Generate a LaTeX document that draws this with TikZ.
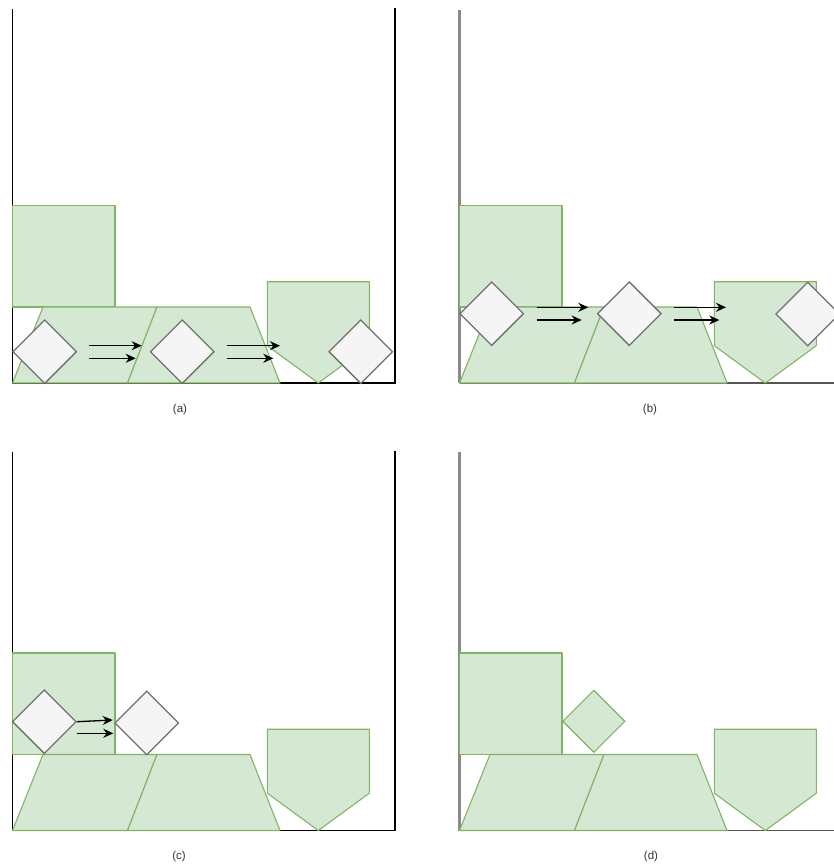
\documentclass[tikz,border=0pt]{standalone}
\usepackage{fontspec}
\setmainfont{Liberation Sans}
\usetikzlibrary{arrows.meta,shapes.geometric}
\definecolor{gfill}{HTML}{D5E8D4}
\definecolor{gline}{HTML}{82B366}
\definecolor{dfill}{HTML}{F5F5F5}
\definecolor{dline}{HTML}{707070}
\definecolor{wallgray}{HTML}{8A8A8A}
\definecolor{floorgray}{HTML}{555555}
\definecolor{labgray}{HTML}{333333}
\tikzset{
  greenshape/.style={fill=gfill, draw=gline, line width=1.1pt, line join=round},
  graydiam/.style={diamond, aspect=1, minimum width=64pt, minimum height=64pt, inner sep=0pt, fill=dfill, draw=dline, line width=1.3pt},
  greendiam/.style={diamond, aspect=1, minimum width=62.5pt, minimum height=62.5pt, inner sep=0pt, fill=gfill, draw=gline, line width=1.1pt},
  wallA/.style={draw=black, line width=1.4pt},
  wallB/.style={draw=wallgray, line width=2.2pt},
  floorB/.style={draw=floorgray, line width=1.6pt},
  arr/.style={draw=black, -{Stealth[length=10pt,width=9pt]}, line width=1.3pt},
  lab/.style={font=\fontsize{11.5}{13}\selectfont, text=labgray},
  basescene/.pic={
    \path[greenshape] (12.5,205.5) rectangle (115,307);
    \path[greenshape] (12.5,383) -- (43,307) -- (157,307) -- (127.5,383) -- cycle;
    \path[greenshape] (127.5,383) -- (157,307) -- (250,307) -- (280,383) -- cycle;
    \path[greenshape] (267.3,281.7) -- (369.3,281.7) -- (369.3,345.7) -- (318.3,383) -- (267.3,345.7) -- cycle;
  }
}
\begin{document}
\begin{tikzpicture}[x=1pt,y=-1pt]
\useasboundingbox (0,0) rectangle (834,865);
\fill[white] (0,0) rectangle (834,865);

% ---------- (a) ----------
\draw[wallA] (12.5,9) -- (12.5,383) -- (395,383) -- (395,8);
\pic at (0,0) {basescene};
\node[graydiam] (da1) at (44.7,351.7) {};
\node[graydiam] (da2) at (182.2,351.7) {};
\node[graydiam] (da3) at (360.8,351.7) {};
\coordinate (a1s) at (89,345.7);   \coordinate (a1e) at (141.7,345.7);
\coordinate (a2s) at (89,358.3);   \coordinate (a2e) at (135.7,358.3);
\coordinate (a3s) at (226.7,345.7); \coordinate (a3e) at (280,345.7);
\coordinate (a4s) at (226.7,358.3); \coordinate (a4e) at (273.3,358.3);
\draw[arr] (a1s) -- (a1e);
\draw[arr] (a2s) -- (a2e);
\draw[arr] (a3s) -- (a3e);
\draw[arr] (a4s) -- (a4e);
\node[lab] (la) at (180,410) {(a)};

% ---------- (b) ----------
\draw[wallB] (459.5,10) -- (459.5,383);
\draw[floorB] (459.5,383) -- (834,383);
\pic at (447,0) {basescene};
\node[graydiam] (db1) at (491.7,313.7) {};
\node[graydiam] (db2) at (629.3,313.7) {};
\node[graydiam] (db3) at (807.7,314) {};
\coordinate (b1s) at (536.7,307.3); \coordinate (b1e) at (588.3,307.3);
\coordinate (b2s) at (536.7,320);   \coordinate (b2e) at (581.7,320);
\coordinate (b3s) at (674.3,307.3); \coordinate (b3e) at (726,307.3);
\coordinate (b4s) at (674.3,320);   \coordinate (b4e) at (719.3,320);
\draw[arr] (b1s) -- (b1e);
\draw[arr] (b2s) -- (b2e);
\draw[arr] (b3s) -- (b3e);
\draw[arr] (b4s) -- (b4e);
\node[lab] (lb) at (650,410) {(b)};

% ---------- (c) ----------
\draw[wallA] (12.5,452) -- (12.5,830.5) -- (395,830.5) -- (395,451);
\pic at (0,447.5) {basescene};
\node[graydiam] (dc1) at (44.3,721.7) {};
\node[graydiam] (dc2) at (146.7,723) {};
\coordinate (c1e) at (112.7,720);
\coordinate (c2s) at (76.7,733.3); \coordinate (c2e) at (113.3,733.3);
\draw[arr] (dc1.east) -- (c1e);
\draw[arr] (c2s) -- (c2e);
\node[lab] (lc) at (179,857) {(c)};

% ---------- (d) ----------
\draw[wallB] (459.5,452) -- (459.5,830.5);
\draw[floorB] (459.5,830.5) -- (834,830.5);
\pic at (447,447.5) {basescene};
\node[greendiam] (dd1) at (593.8,721.3) {};
\node[lab] (ld) at (651,857) {(d)};
\end{tikzpicture}
\end{document}
